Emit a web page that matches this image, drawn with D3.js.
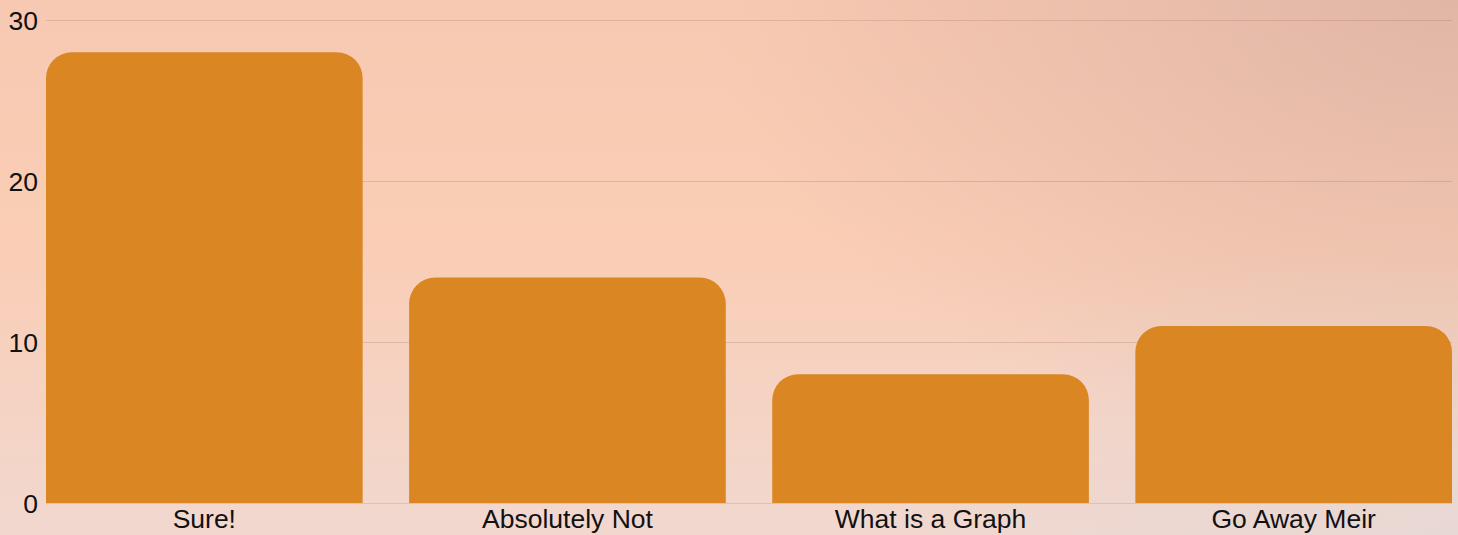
<!DOCTYPE html>
<html>
<head>
<meta charset="utf-8">
<script src="https://cdn.jsdelivr.net/npm/d3@7"></script>
<style>
html,body{margin:0;padding:0;width:1458px;height:535px;overflow:hidden;}
body{
  background:
    radial-gradient(ellipse 750px 460px at 1458px 0px, rgba(214,174,160,0.7), rgba(214,174,160,0) 100%),
    radial-gradient(ellipse 600px 300px at 1458px 535px, rgba(226,216,216,0.6), rgba(226,216,216,0) 100%),
    linear-gradient(to bottom, #f8c9b2 0%, #facdb5 45%, #f1d8cf 100%);
}
svg{display:block;font-family:"Liberation Sans",Arial,sans-serif;}
</style>
</head>
<body>
<svg id="chart" width="1458" height="535"></svg>
<script>
const categories = ["Sure!", "Absolutely Not", "What is a Graph", "Go Away Meir"];
const values = [28, 14, 8, 11];
const yTicks = [0, 10, 20, 30];

const svg = d3.select("#chart");
const mLeft = 46, mRight = 1452, mTop = 20, mBottom = 503;

const x = d3.scaleBand().domain(categories).range([mLeft, mRight]).paddingInner(0.128).paddingOuter(0);
const y = d3.scaleLinear().domain([0, 30]).range([mBottom, mTop]);

// gridlines
svg.append("g").selectAll("line").data(yTicks).join("line")
  .attr("x1", mLeft).attr("x2", mRight)
  .attr("y1", d => y(d) + 0.5).attr("y2", d => y(d) + 0.5)
  .attr("stroke", "rgba(120,70,50,0.18)").attr("stroke-width", 1);

// y labels
svg.append("g").selectAll("text").data(yTicks).join("text")
  .attr("x", 38).attr("y", d => y(d) + 9.5)
  .attr("text-anchor", "end").attr("font-size", 26.5).attr("fill", "#111")
  .text(d => d);

// bars with rounded tops
const r = 26;
function barPath(d, i) {
  const x0 = x(categories[i]), w = x.bandwidth();
  const y0 = y(d), yb = y(0);
  const rr = Math.min(r, (yb - y0));
  return `M${x0},${yb}V${y0 + rr}A${rr},${rr} 0 0 1 ${x0 + rr},${y0}H${x0 + w - rr}A${rr},${rr} 0 0 1 ${x0 + w},${y0 + rr}V${yb}Z`;
}
svg.append("g").selectAll("path").data(values).join("path")
  .attr("d", (d, i) => barPath(d, i))
  .attr("fill", "#d98623");

// baseline
svg.append("line").attr("x1", mLeft).attr("x2", mRight)
  .attr("y1", y(0) + 0.5).attr("y2", y(0) + 0.5)
  .attr("stroke", "rgba(240,190,150,0.8)").attr("stroke-width", 1);

// x labels
svg.append("g").selectAll("text").data(categories).join("text")
  .attr("x", d => x(d) + x.bandwidth() / 2).attr("y", 528)
  .attr("text-anchor", "middle").attr("font-size", 26.5).attr("fill", "#111")
  .text(d => d);
</script>
</body>
</html>
